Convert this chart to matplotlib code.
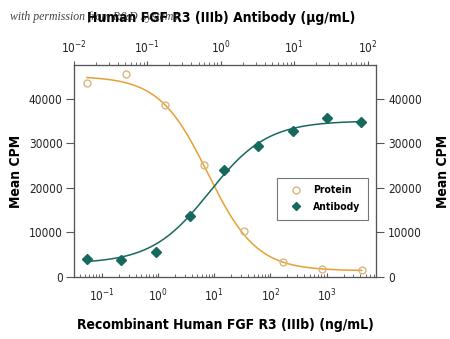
import numpy as np
import matplotlib
matplotlib.use('Agg')
import matplotlib.pyplot as plt
from matplotlib.lines import Line2D

plt.rcParams['font.family'] = ['Liberation Sans Narrow', 'DejaVu Sans']
plt.rcParams['font.stretch'] = 'condensed'
plt.rcParams['mathtext.fontset'] = 'custom'
plt.rcParams['mathtext.rm'] = 'DejaVu Sans:stretch=condensed'
plt.rcParams['mathtext.it'] = 'DejaVu Sans:stretch=condensed:italic'
plt.rcParams['mathtext.bf'] = 'DejaVu Sans:stretch=condensed:bold'

# recombinant protein (ng/mL), bottom axis
protein_conc = [0.054, 0.27, 1.34, 6.7, 33.6, 168, 840, 4200]
protein_cpm = [43500, 45500, 38500, 25200, 10300, 3300, 1800, 1600]

# antibody (ug/mL), top axis
antibody_conc = [0.015, 0.044, 0.13, 0.38, 1.1, 3.2, 9.5, 28, 82]
antibody_cpm = [4000, 3850, 5600, 13600, 23900, 29400, 32800, 35700, 34800]

# 4PL fit parameters: bottom, top, EC50, hill
protein_fit = (1400, 45000, 7.7, 1.0)
antibody_fit = (3000, 35000, 0.7, 1.1)

yticks = [0, 10000, 20000, 30000, 40000]

c_protein_line = '#E6A134'
c_protein_pts = '#D9B67E'
c_antibody = '#17695E'


def fourpl(x, bottom, top, ec50, hill):
    return bottom + (top - bottom) / (1 + (x / ec50) ** hill)


fig = plt.figure(figsize=(4.5, 3.39), dpi=100)
ax = fig.add_axes([0.164, 0.183, 0.671, 0.625])
ax.set_xscale('log')
ax.set_xlim(0.0316, 7500)
ax.set_ylim(0, 47500)
ax.set_yticks(yticks)

ax2 = ax.twiny()
ax2.set_xscale('log')
ax2.set_xlim(0.01, 129)

ax3 = ax.twinx()
ax3.set_ylim(0, 47500)
ax3.set_yticks(yticks)

# protein curve and points
xs = np.logspace(np.log10(protein_conc[0]), np.log10(protein_conc[-1]), 200)
ax.plot(xs, fourpl(xs, *protein_fit), color=c_protein_line, lw=1.1)
ax.plot(protein_conc, protein_cpm, 'o', mfc='none', mec=c_protein_pts, ms=5, mew=1.0)

# antibody curve and points (rising, so hill is negative)
xa = np.logspace(np.log10(antibody_conc[0]), np.log10(antibody_conc[-1]), 200)
b, t, e, h = antibody_fit
ax2.plot(xa, fourpl(xa, b, t, e, -h), color=c_antibody, lw=1.1)
ax2.plot(antibody_conc, antibody_cpm, 'D', color=c_antibody, ms=5)

spine_col = '#555555'
for a in (ax, ax2, ax3):
    for s in a.spines.values():
        s.set_color(spine_col)
        s.set_linewidth(0.8)

fs = 8.5
ax.tick_params(axis='x', which='both', direction='in', colors=spine_col,
               labelcolor='#222222', labelsize=fs, pad=8)
ax.tick_params(axis='x', which='major', length=3)
ax.tick_params(axis='x', which='minor', length=2)
ax.tick_params(axis='y', direction='out', length=6, colors=spine_col,
               labelcolor='#222222', labelsize=fs, pad=2)
ax2.tick_params(axis='x', which='both', direction='out', colors=spine_col,
                labelcolor='#222222', labelsize=fs, pad=3)
ax2.tick_params(axis='x', which='major', length=3)
ax2.tick_params(axis='x', which='minor', length=2)
ax3.tick_params(axis='y', direction='out', length=6, colors=spine_col,
                labelcolor='#222222', labelsize=fs, pad=3)

lab = dict(fontsize=10, fontweight='bold')
ax.set_ylabel('Mean CPM', labelpad=4, **lab)
ax3.set_ylabel('Mean CPM', labelpad=10, **lab)
fig.text(0.5, 0.041, 'Recombinant Human FGF R3 (IIIb) (ng/mL)', ha='center', va='center', **lab)
fig.text(0.492, 0.947, 'Human FGF R3 (IIIb) Antibody (\u00b5g/mL)', ha='center', va='center', **lab)

handles = [Line2D([], [], ls='none', marker='o', mfc='none', mec=c_protein_pts, ms=5),
           Line2D([], [], ls='none', marker='D', color=c_antibody, ms=4.5)]
leg = ax3.legend(handles, ['Protein', 'Antibody'], loc='center',
                 bbox_to_anchor=(0.823, 0.37), fancybox=False, framealpha=1,
                 edgecolor='#777777', prop={'weight': 'bold', 'size': 7.5},
                 handlelength=2.2, handletextpad=0.5, borderpad=0.75, labelspacing=0.6)
leg.get_frame().set_linewidth(0.8)

fig.text(0.022, 0.95, 'with permission from R&D Systems', family='Liberation Serif',
         style='italic', fontsize=8.5, color='#222222', alpha=0.85, va='center')

fig.savefig('out.png', dpi=100)
